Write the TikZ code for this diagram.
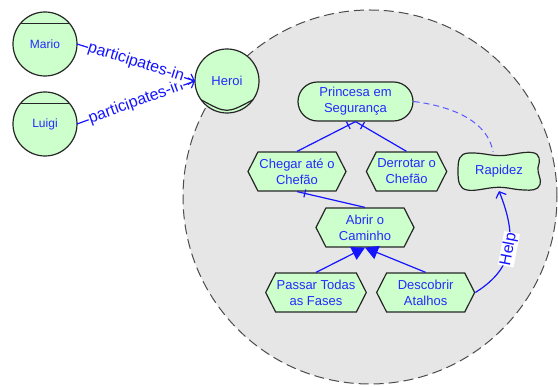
\documentclass[tikz,border=0pt]{standalone}
\usepackage{fontspec}
\setmainfont{Liberation Sans}
\usetikzlibrary{arrows.meta,positioning,shapes.misc,shapes.symbols,backgrounds,decorations.markings}

\definecolor{nodefill}{RGB}{204,255,204}
\definecolor{actorfill}{RGB}{230,230,230}
\definecolor{linkblue}{RGB}{20,20,255}
\definecolor{textblue}{RGB}{40,40,255}

\tikzset{
  elem/.style={draw=black!85, line width=1.2pt, fill=nodefill, text=textblue, align=center,
               font=\fontsize{13}{16}\selectfont, inner sep=1pt},
  goal/.style={elem, rounded rectangle, minimum width=117pt, minimum height=39pt},
  task/.style={elem, signal, signal to=west and east, signal pointer angle=126,
               minimum width=98pt, minimum height=39pt},
  softgoal/.style={elem, draw=none, fill=none, minimum width=82pt, minimum height=38pt},
  agent/.style={elem, circle, minimum size=64pt, outer sep=0pt, font=\fontsize{12}{14}\selectfont},
  role/.style={agent, font=\fontsize{13}{15}\selectfont},
  link/.style={draw=linkblue, line width=1.2pt},
  decomp/.style={link, postaction={decorate, decoration={markings,
                 mark=at position -8pt with {\draw[linkblue, line width=1.2pt] (0,-4pt) -- (0,4pt);}}}},
  meansend/.style={link, -{Triangle[length=13pt, width=14pt]}},
  openarr/.style={link, -{Straight Barb[length=5pt, width=11pt]}},
  contrib/.style={link, draw=linkblue!70, line width=1pt, dash pattern=on 6pt off 4pt},
  lbl/.style={font=\fontsize{16}{18}\selectfont, text=linkblue, fill=white, inner sep=0.5pt, sloped},
  boundary/.style={draw=black!70, line width=1pt, dash pattern=on 10pt off 5pt, fill=actorfill},
}

\begin{document}
\begin{tikzpicture}[x=1pt,y=1pt]
\useasboundingbox (0,0) rectangle (558,387);

% ================= actor boundary =================
\begin{scope}[on background layer]
  \draw[boundary] (370,190) circle (187);
\end{scope}

% ================= agents and role =================
\node[agent] (mar) at (45,343) {Mario};
\node[agent] (lui) at (45,263) {Luigi};
\foreach \a in {mar, lui} {\draw[black!85, line width=1.2pt] (\a.141) -- (\a.39);}

\node[role] (her) at (227,306) {Heroi};
\draw[black!85, line width=1.2pt] (her.216) .. controls +(25.7,-14) .. (her.324);

% ================= goals and tasks =================
\node[goal] (pri) at (355.5,285.5) {Princesa em\\Segurança};
\node[task] (che) at (297,215.5) {Chegar até o\\Chefão};
\node[task, minimum width=78pt, right=19pt of che] (der) {Derrotar o\\Chefão};
\node[softgoal, right=10pt of der] (rap) {Rapidez};
\node[task] (abr) at (365,159.5) {Abrir o\\Caminho};
\node[task] (pas) at (316,94.5) {Passar Todas\\as Fases};
\node[task, right=9pt of pas] (des) {Descobrir\\Atalhos};

% softgoal outline, kept under its text
\begin{scope}[on background layer]
  \draw[elem, shift={(rap.center)}] (-41,0)
    .. controls (-41,12) and (-40,18) .. (-30,18.5)
    .. controls (-15,19) and (-8,15) .. (5,16)
    .. controls (15,17) and (25,20) .. (33,19)
    .. controls (42,18) and (41,10) .. (39,4)
    .. controls (38,-2) and (43,-8) .. (41,-13)
    .. controls (39,-19) and (32,-19) .. (25,-18.5)
    .. controls (12,-18) and (8,-15) .. (-5,-16)
    .. controls (-15,-17) and (-25,-20) .. (-32,-18.5)
    .. controls (-40,-17) and (-41,-10) .. cycle;
\end{scope}

% ================= links =================
\draw[openarr] (lui.east) -- node[lbl] {participates-in} (her.west);
\draw[openarr] (mar.east) -- node[lbl] {participates-in} (her.west);

\foreach \a/\b in {che/pri, der/pri, abr/che} {\draw[decomp] (\a.north) -- (\b.south);}
\foreach \a in {pas, des} {\draw[meansend] (\a.north) -- (abr.south);}

\draw[contrib] (pri.east) .. controls +(32,-4) and +(-6,34) .. ([xshift=-6pt]rap.north);
\draw[openarr] (des.east) .. controls +(40,25) and +(18,-45) .. node[lbl] {Help} (rap.south);

\end{tikzpicture}
\end{document}
